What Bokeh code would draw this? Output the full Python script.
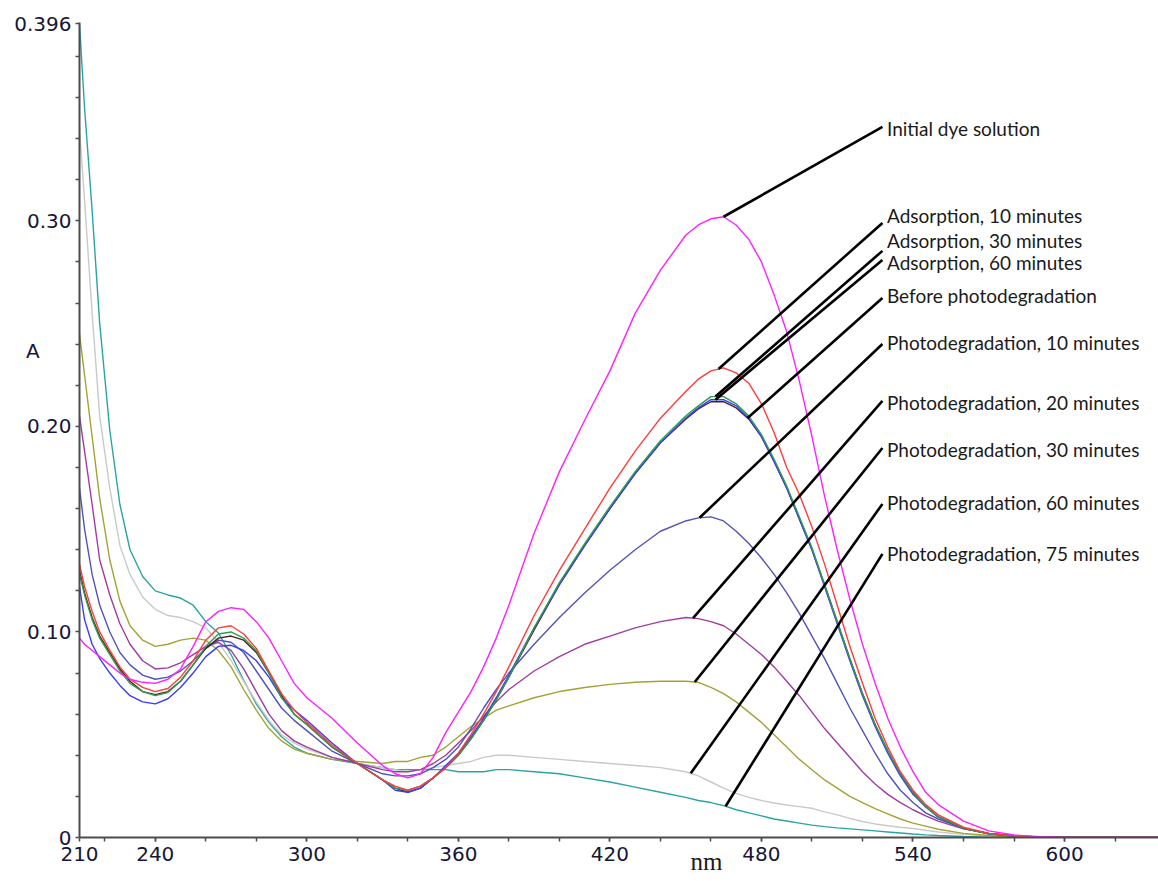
import numpy as np
from bokeh.plotting import figure
from bokeh.models import Range1d, FixedTicker, CustomJSTickFormatter
from bokeh.core.properties import value
from bokeh.embed import file_html
from bokeh.resources import INLINE

# ---------------- data ----------------
wavelength = [210, 212, 215, 218, 222, 226, 230, 235, 240, 245,
              250, 255, 260, 265, 270, 275, 280, 285, 290, 295,
              300, 310, 320, 330, 335, 340, 345, 350, 355, 360,
              365, 370, 375, 380, 390, 400, 410, 420, 430, 440,
              450, 455, 460, 465, 470, 475, 480, 485, 490, 495,
              500, 505, 510, 515, 520, 525, 530, 535, 540, 545,
              550, 560, 570, 580, 590, 600, 620, 637]

initial_dye = [.097, .094, .091, .088, .084, .080, .077, .0755, .075, .077,
               .082, .093, .105, .110, .1118, .111, .105, .097, .086, .075,
               .068, .058, .046, .035, .031, .029, .031, .039, .051, .061,
               .071, .083, .097, .113, .148, .178, .203, .227, .255, .276,
               .293, .298, .301, .302, .298, .291, .280, .264, .246, .222,
               .195, .166, .140, .116, .094, .075, .058, .044, .032, .022,
               .016, .008, .0032, .0012, .0004, 0, 0, 0]

adsorption_10 = [.133, .122, .110, .100, .091, .083, .077, .073, .071, .0725,
                 .078, .086, .096, .102, .103, .099, .092, .081, .070, .062,
                 .056, .045, .036, .028, .025, .023, .025, .029, .034, .041,
                 .050, .060, .071, .083, .108, .130, .150, .170, .188, .204,
                 .217, .223, .227, .2285, .226, .221, .211, .197, .180, .167,
                 .151, .133, .113, .093, .075, .058, .044, .032, .023, .016,
                 .011, .005, .002, .0008, .0003, 0, 0, 0]

adsorption_30 = [.128, .118, .106, .097, .089, .081, .075, .071, .069, .0705,
                 .076, .084, .093, .099, .100, .097, .091, .080, .068, .060,
                 .055, .044, .036, .028, .024, .023, .025, .029, .034, .040,
                 .048, .057, .067, .078, .102, .124, .143, .161, .178, .193,
                 .205, .210, .2145, .2145, .211, .205, .196, .184, .171, .156,
                 .141, .123, .105, .087, .070, .055, .042, .031, .022, .015,
                 .010, .0045, .0018, .0007, .0002, 0, 0, 0]

adsorption_60 = [.122, .106, .094, .087, .080, .074, .069, .066, .065, .0675,
                 .073, .080, .088, .093, .0935, .091, .086, .078, .068, .062,
                 .057, .046, .036, .028, .023, .022, .024, .029, .035, .041,
                 .049, .058, .068, .079, .102, .123, .142, .160, .177, .192,
                 .204, .209, .213, .213, .210, .204, .195, .183, .170, .155,
                 .140, .122, .104, .086, .069, .054, .041, .030, .021, .015,
                 .010, .0045, .0018, .0007, .0002, 0, 0, 0]

before_photo = [.130, .119, .107, .098, .090, .082, .076, .071, .0695, .071,
                .076, .084, .092, .097, .098, .096, .090, .080, .069, .060,
                .055, .044, .036, .028, .024, .022, .024, .029, .034, .040,
                .048, .057, .067, .078, .101, .123, .142, .160, .177, .192,
                .2035, .2085, .212, .212, .209, .2035, .195, .183, .170, .155,
                .140, .123, .105, .087, .070, .055, .042, .031, .022, .015,
                .010, .0045, .0018, .0007, .0002, 0, 0, 0]

photo_10 = [.170, .150, .128, .113, .100, .090, .084, .079, .077, .078,
            .081, .086, .092, .096, .095, .090, .081, .072, .063, .057,
            .052, .042, .036, .031, .030, .030, .031, .034, .038, .044,
            .053, .063, .072, .080, .094, .107, .119, .130, .140, .149,
            .154, .1555, .156, .154, .149, .143, .136, .128, .119, .109,
            .098, .087, .075, .063, .052, .041, .031, .023, .017, .012,
            .009, .0045, .002, .0008, .0003, 0, 0, 0]

photo_20 = [.205, .188, .162, .135, .118, .104, .094, .086, .082, .0825,
            .085, .089, .093, .095, .091, .082, .071, .060, .052, .047,
            .044, .039, .036, .033, .032, .032, .033, .036, .040, .046,
            .052, .059, .066, .072, .081, .088, .094, .098, .102, .105,
            .107, .1065, .105, .103, .099, .094, .089, .083, .076, .069,
            .061, .053, .046, .039, .032, .026, .021, .017, .0135, .0105,
            .008, .0042, .002, .0008, .0003, 0, 0, 0]

photo_30 = [.245, .225, .195, .165, .135, .115, .103, .096, .093, .094,
            .096, .097, .096, .091, .083, .072, .062, .053, .047, .043,
            .041, .038, .037, .036, .037, .037, .039, .040, .044, .049,
            .054, .058, .062, .064, .068, .071, .073, .0745, .0755, .076,
            .076, .0755, .073, .070, .066, .061, .056, .050, .044, .038,
            .033, .028, .024, .020, .017, .014, .0115, .009, .007, .0055,
            .004, .002, .001, .0004, 0, 0, 0, 0]

photo_60 = [.345, .310, .255, .205, .170, .142, .128, .117, .111, .108,
            .107, .105, .102, .095, .086, .076, .066, .057, .050, .046,
            .043, .039, .036, .034, .033, .032, .033, .034, .035, .036,
            .037, .039, .040, .040, .039, .038, .037, .036, .035, .034,
            .032, .030, .027, .024, .0215, .0195, .018, .0168, .0158, .015,
            .0142, .0125, .011, .0093, .0078, .0066, .0057, .005, .0044, .0035,
            .0027, .0015, .0007, .0002, 0, 0, 0, 0]

photo_75 = [.396, .355, .305, .250, .198, .162, .140, .127, .120, .118,
            .1165, .113, .105, .0995, .089, .0765, .065, .056, .049, .044,
            .041, .038, .036, .034, .033, .033, .033, .033, .033, .032,
            .032, .032, .033, .033, .032, .031, .029, .027, .0245, .022,
            .0195, .018, .017, .0155, .0135, .012, .0105, .009, .008, .007,
            .006, .0053, .0047, .0042, .0037, .0032, .0027, .0022, .0017, .0013,
            .001, .0005, .0002, 0, 0, 0, 0, 0]

series_names = ["Initial dye solution", "Adsorption, 10 minutes", "Adsorption, 30 minutes",
                "Adsorption, 60 minutes", "Before photodegradation", "Photodegradation, 10 minutes",
                "Photodegradation, 20 minutes", "Photodegradation, 30 minutes",
                "Photodegradation, 60 minutes", "Photodegradation, 75 minutes"]
series_values = [initial_dye, adsorption_10, adsorption_30, adsorption_60, before_photo,
                 photo_10, photo_20, photo_30, photo_60, photo_75]

x_title = "nm"
y_title = "A"
x_major_ticks = [210, 240, 300, 360, 420, 480, 540, 600]
x_minor_ticks = [220, 240, 260, 280, 300, 320, 340, 360, 380, 400, 420, 440, 460,
                 480, 500, 520, 540, 560, 580, 600, 620]
y_label_ticks = [0, 0.10, 0.20, 0.30, 0.396]
y_label_texts = ["0", "0.10", "0.20", "0.30", "0.396"]
y_mark_ticks = [0, 0.02, 0.04, 0.06, 0.08, 0.10, 0.12, 0.14, 0.16, 0.18, 0.20,
                0.22, 0.24, 0.26, 0.28, 0.30, 0.32, 0.34, 0.36, 0.38, 0.396]

# ---------------- styles / layout ----------------
series_colors = ["#ff1fff", "#ff3b3b", "#2e9e4a", "#3a3aff", "#4a2424",
                 "#5252b8", "#a03ca0", "#a3a335", "#c9c9c9", "#2aa3a3"]
draw_order = [9, 8, 7, 6, 5, 4, 3, 2, 1, 0]

leader_nm = [465.0, 463.0, 461.8, 461.8, 474.5, 455.5, 452.9, 453.6, 452.0, 465.8]
leader_end_x = 527.9
leader_end_y = [0.3457, 0.2990, 0.2854, 0.2810, 0.2625, 0.2401, 0.2124, 0.1895, 0.1623, 0.1380]
label_x = 529.7
label_y = [0.3450, 0.3024, 0.2903, 0.2796, 0.2635, 0.2406, 0.2114, 0.1890, 0.1628, 0.1384]
y_title_pos = 0.2367          # height at which the "A" sits, left of the axis
NBSP = "\u00a0"

p = figure(width=1158, height=881,
           x_range=Range1d(210, 637.2), y_range=Range1d(0, 0.3965),
           output_backend="svg", toolbar_location=None,
           min_border_left=79, min_border_right=0, min_border_top=22, min_border_bottom=44)
p.outline_line_color = None
p.xgrid.visible = False
p.ygrid.visible = False
p.background_fill_color = "white"

for i in draw_order:
    p.line(wavelength, series_values[i], line_color=series_colors[i], line_width=1.4)

leader_y0 = [float(np.interp(leader_nm[i], wavelength, series_values[i])) for i in range(len(series_names))]
p.segment(x0=leader_nm, y0=leader_y0,
          x1=[leader_end_x] * len(series_names), y1=leader_end_y,
          line_color="black", line_width=2.6)

p.text(x=[label_x] * len(series_names), y=label_y, text=series_names,
       text_font=value("Lato"), text_font_size="19px", text_color="#1a1a1a",
       text_align="left", text_baseline="middle")

# x axis
p.xaxis.ticker = FixedTicker(ticks=x_major_ticks, minor_ticks=x_minor_ticks)
# y axis: labelled positions + the "A" title as a label; tick marks come from the minor list
y_ticks_all = y_label_ticks + [y_title_pos]
y_texts_all = y_label_texts + [y_title + NBSP * 5]
p.yaxis.ticker = FixedTicker(ticks=y_ticks_all, minor_ticks=y_mark_ticks)
p.yaxis.formatter = CustomJSTickFormatter(
    args=dict(vals=y_ticks_all, labs=y_texts_all),
    code="""
    for (let i = 0; i < vals.length; i++) {
        if (Math.abs(tick - vals[i]) < 1e-9) { return labs[i]; }
    }
    return "";
    """)

for ax in (p.xaxis[0], p.yaxis[0]):
    ax.axis_line_color = "#4d4d4d"
    ax.axis_line_width = 2
    ax.major_tick_line_color = "#4d4d4d"
    ax.minor_tick_line_color = "#4d4d4d"
    ax.major_tick_line_width = 1.5
    ax.minor_tick_line_width = 1.5
    ax.major_tick_in = 0
    ax.minor_tick_in = 0
    ax.major_tick_out = 4
    ax.minor_tick_out = 4
    ax.major_label_text_font = "DejaVu Sans"
    ax.major_label_text_font_size = "20px"
    ax.major_label_text_color = "#161638"
p.yaxis.major_tick_line_color = None
p.xaxis.major_label_standoff = 5
p.yaxis.major_label_standoff = 4

# "nm" under the tick labels, shifted right as in the reference
p.xaxis.axis_label = NBSP * 28 + x_title
p.xaxis.axis_label_text_font = "Liberation Serif"
p.xaxis.axis_label_text_font_size = "25px"
p.xaxis.axis_label_text_font_style = "normal"
p.xaxis.axis_label_text_color = "#1a1a1a"
p.xaxis.axis_label_standoff = -16

open("out.html", "w").write(file_html(p, INLINE))
